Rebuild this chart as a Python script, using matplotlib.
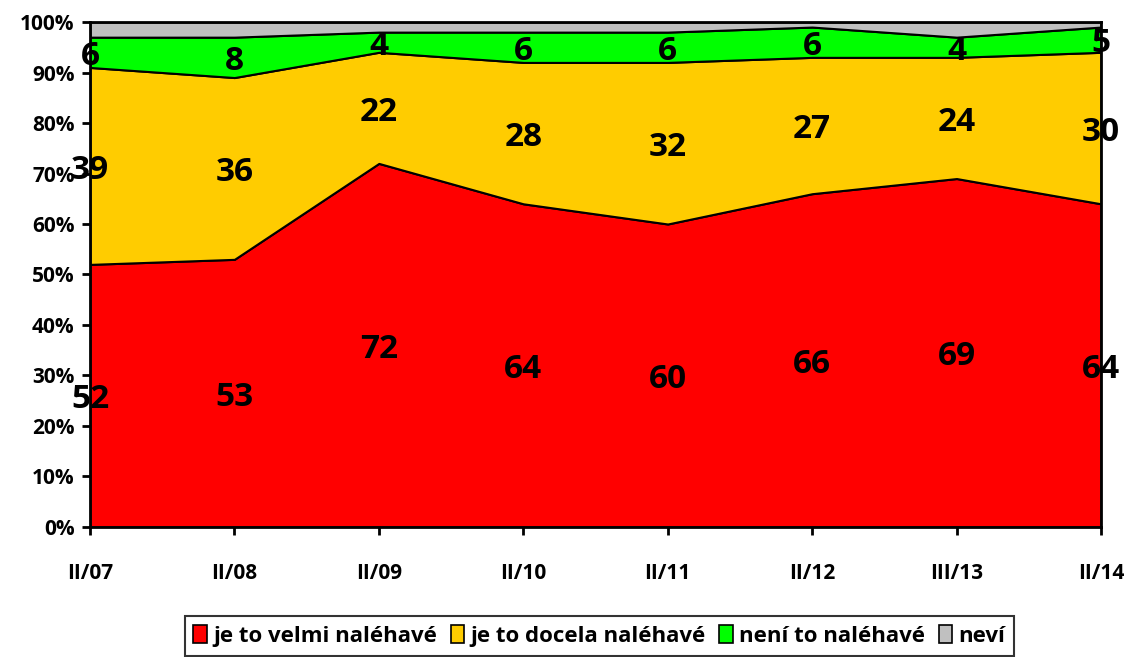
import numpy as np
import matplotlib.pyplot as plt
from matplotlib.patches import Patch

plt.rcParams['font.family'] = ['Open Sans', 'DejaVu Sans']
plt.rcParams['font.weight'] = 'bold'

periods = ['II/07', 'II/08', 'II/09', 'II/10', 'II/11', 'II/12', 'III/13', 'II/14']
velmi = [52, 53, 72, 64, 60, 66, 69, 64]
docela = [39, 36, 22, 28, 32, 27, 24, 30]
neni = [6, 8, 4, 6, 6, 6, 4, 5]
nevi = [3, 3, 2, 2, 2, 1, 3, 1]

names = ['je to velmi naléhavé', 'je to docela naléhavé', 'není to naléhavé', 'neví']
colors = ['#ff0000', '#ffcc00', '#00ff00', '#c0c0c0']

fig = plt.figure(figsize=(11.29, 6.57), dpi=100)
ax = fig.add_axes([0.0797, 0.1979, 0.8955, 0.7686])

x = np.arange(len(periods))
series = [velmi, docela, neni, nevi]
base = np.zeros(len(periods))
for vals, c in zip(series, colors):
    top = base + np.array(vals)
    ax.fill_between(x, base, top, facecolor=c, edgecolor='black', linewidth=1.5)
    base = top

# value labels in the middle of first three bands
base = np.zeros(len(periods))
for vals in series[:3]:
    for i, v in enumerate(vals):
        ax.annotate(str(v), (x[i], base[i] + v / 2), xytext=(0, -3),
                    textcoords='offset points', ha='center', va='center',
                    fontsize=24, fontweight='bold', annotation_clip=False)
    base = base + np.array(vals)

ax.set_xlim(0, len(periods) - 1)
ax.set_ylim(0, 100)
ax.set_xticks(x)
ax.set_xticklabels(periods, fontsize=15, fontweight='bold')
ax.set_yticks(np.arange(0, 101, 10))
ax.set_yticklabels([f'{v}%' for v in range(0, 101, 10)], fontsize=15, fontweight='bold')
ax.tick_params(axis='both', direction='out', length=6, width=2)
ax.tick_params(axis='x', pad=20)
ax.tick_params(axis='y', pad=5)
for s in ax.spines.values():
    s.set_linewidth(2)

handles = [Patch(facecolor=c, edgecolor='black', linewidth=1.2) for c in colors]
leg = fig.legend(handles, names, loc='center', bbox_to_anchor=(0.531, 0.032), ncol=4,
                 fontsize=16, frameon=True, fancybox=False, edgecolor='black',
                 handlelength=0.6, handleheight=0.9, handletextpad=0.3,
                 columnspacing=0.6, borderpad=0.4)
leg.get_frame().set_linewidth(1.5)
for t in leg.get_texts():
    t.set_fontweight('bold')

fig.savefig('out.png', dpi=100)
